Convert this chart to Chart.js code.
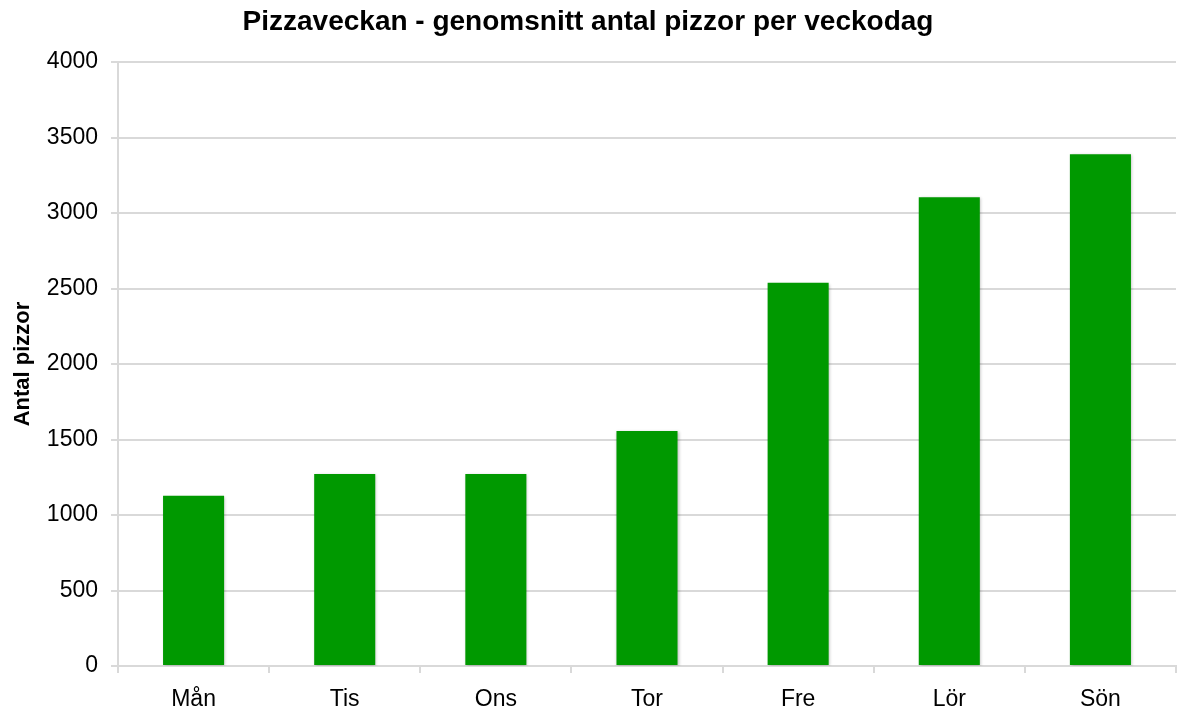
<!DOCTYPE html>
<html>
<head>
<meta charset="utf-8">
<script src="https://cdn.jsdelivr.net/npm/chart.js@4/dist/chart.umd.min.js"></script>
<style>
html,body{margin:0;padding:0;background:#fff;}
#wrap{width:1177px;height:713px;position:relative;}
</style>
</head>
<body>
<div id="wrap"><canvas id="c" width="1177" height="713"></canvas></div>
<script>
const categories = ["Mån", "Tis", "Ons", "Tor", "Fre", "Lör", "Sön"];
const pizzor = [1128, 1271, 1271, 1556, 2538, 3104, 3389];
const yTicks = [0, 500, 1000, 1500, 2000, 2500, 3000, 3500, 4000];
const titleText = "Pizzaveckan - genomsnitt antal pizzor per veckodag";
const yTitle = "Antal pizzor";

const shadowPlugin = {
  id: 'barShadow',
  beforeDatasetsDraw(chart) {
    const ctx = chart.ctx;
    ctx.save();
    ctx.shadowColor = 'rgba(0,0,0,0.25)';
    ctx.shadowBlur = 3;
    ctx.shadowOffsetX = 1;
    ctx.shadowOffsetY = 1;
  },
  afterDatasetsDraw(chart) {
    chart.ctx.restore();
  }
};

const FONT = 'Liberation Sans, Arial, sans-serif';

new Chart(document.getElementById('c'), {
  type: 'bar',
  data: {
    labels: categories,
    datasets: [{
      label: yTitle,
      data: pizzor,
      backgroundColor: '#009900',
      borderWidth: 0,
      categoryPercentage: 1.0,
      barPercentage: 0.404
    }]
  },
  plugins: [shadowPlugin],
  options: {
    responsive: false,
    animation: false,
    devicePixelRatio: 1,
    layout: { padding: { left: 0, right: 1, top: 0, bottom: 0 } },
    plugins: {
      legend: { display: false },
      tooltip: { enabled: false },
      title: {
        display: true,
        text: titleText,
        color: '#000',
        font: { family: FONT, size: 28, weight: 'bold' },
        padding: { top: 5, bottom: 23.4 }
      }
    },
    scales: {
      x: {
        afterFit(scale) { scale.height = 47; },
        grid: {
          display: true,
          drawOnChartArea: false,
          offset: true,
          color: '#d9d9d9',
          lineWidth: 2,
          tickLength: 7
        },
        border: { display: true, color: '#d9d9d9', width: 2 },
        ticks: {
          color: '#000',
          font: { family: FONT, size: 23 },
          padding: 13
        }
      },
      y: {
        min: 0,
        max: 4000,
        afterFit(scale) { scale.width = 118; },
        afterBuildTicks(scale) { scale.ticks = yTicks.map(v => ({ value: v })); },
        grid: {
          color: '#d9d9d9',
          lineWidth: 2,
          tickLength: 7
        },
        border: { display: true, color: '#d9d9d9', width: 2 },
        ticks: {
          color: '#000',
          font: { family: FONT, size: 23 },
          padding: 13,
          callback: (v) => String(v)
        },
        title: {
          display: true,
          text: yTitle,
          color: '#000',
          font: { family: FONT, size: 22, weight: 'bold' },
          padding: { top: 10, bottom: 0 }
        }
      }
    }
  }
});
</script>
</body>
</html>
